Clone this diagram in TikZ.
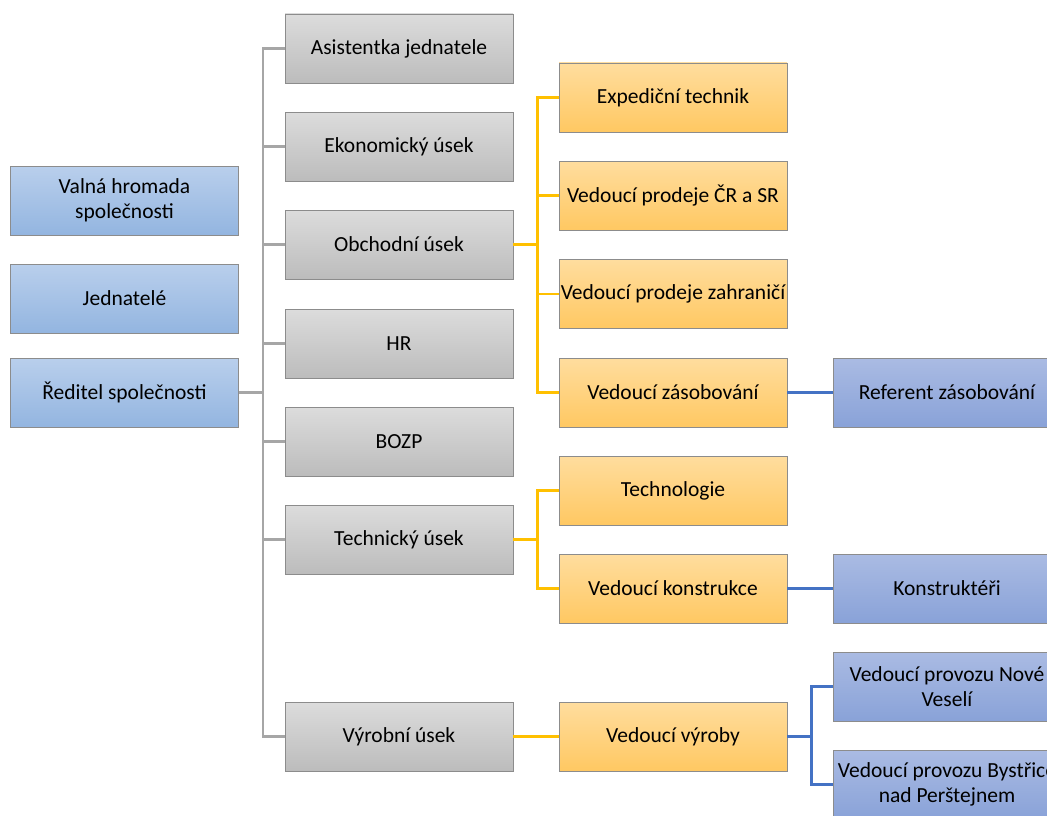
\documentclass[tikz,border=0pt]{standalone}
\usepackage{fontspec}
\setmainfont{Carlito}
\definecolor{lbT}{HTML}{B9CFEC}
\definecolor{lbB}{HTML}{93B5E0}
\definecolor{grT}{HTML}{DCDCDC}
\definecolor{grB}{HTML}{BCBCBC}
\definecolor{orT}{HTML}{FFDD9E}
\definecolor{orB}{HTML}{FFC862}
\definecolor{dbT}{HTML}{AABBE3}
\definecolor{dbB}{HTML}{89A2D8}
\definecolor{gline}{HTML}{A6A6A6}
\definecolor{oline}{HTML}{FFC000}
\definecolor{bline}{HTML}{4472C4}
\tikzset{
  box/.style={draw=black!45, line width=0.7pt, minimum width=228pt, minimum height=69pt,
    align=center, font=\fontsize{21.5}{24.5}\selectfont, inner sep=1pt},
  lbox/.style={box, top color=lbT, bottom color=lbB},
  gbox/.style={box, top color=grT, bottom color=grB},
  obox/.style={box, top color=orT, bottom color=orB},
  dbox/.style={box, top color=dbT, bottom color=dbB},
  gl/.style={draw=gline, line width=2.5pt},
  ol/.style={draw=oline, line width=2.5pt},
  bl/.style={draw=bline, line width=2.5pt},
}
\begin{document}
\begin{tikzpicture}[x=1pt,y=-1pt]
\useasboundingbox (0,0) rectangle (1047,816);
\clip (0,0) rectangle (1047,816);
% left column
\node[lbox] (val) at (124.5,200.5) {Valná hromada\\společnosti};
\node[lbox] (jed) at (124.5,298.5) {Jednatelé};
\node[lbox] (red) at (124.5,392.5) {Ředitel společnosti};
% gray column
\node[gbox] (asi) at (399,48.5) {Asistentka jednatele};
\node[gbox] (eko) at (399,146.5) {Ekonomický úsek};
\node[gbox] (obc) at (399,244.5) {Obchodní úsek};
\node[gbox] (hr) at (399,343.5) {HR};
\node[gbox] (boz) at (399,441.5) {BOZP};
\node[gbox] (tec) at (399,539.5) {Technický úsek};
\node[gbox] (vyu) at (399,736.5) {Výrobní úsek};
% orange column
\node[obox] (exp) at (673,97.5) {Expediční technik};
\node[obox] (pcr) at (673,195.5) {Vedoucí prodeje ČR a SR};
\node[obox] (pza) at (673,294) {Vedoucí prodeje zahraničí};
\node[obox] (zas) at (673,392.5) {Vedoucí zásobování};
\node[obox] (tgl) at (673,490.5) {Technologie};
\node[obox] (kon) at (673,588.5) {Vedoucí konstrukce};
\node[obox] (vyr) at (673,736.5) {Vedoucí výroby};
% right column
\node[dbox] (ref) at (947,392.5) {Referent zásobování};
\node[dbox] (kns) at (947,588.5) {Konstruktéři};
\node[dbox] (nov) at (947,686.5) {Vedoucí provozu Nové\\Veselí};
\node[dbox] (bys) at (947,784.5) {Vedoucí provozu Bystřice\\nad Perštejnem};
% gray connectors
\foreach \t in {asi,eko,obc,hr,boz,tec,vyu}
  \draw[gl] (red.east) -- ++(24,0) |- (\t.west);
% orange connectors
\foreach \t in {exp,pcr,pza,zas}
  \draw[ol] (obc.east) -- ++(24,0) |- (\t.west);
\foreach \t in {tgl,kon}
  \draw[ol] (tec.east) -- ++(24,0) |- (\t.west);
\draw[ol] (vyu.east) -- (vyr.west);
% blue connectors
\draw[bl] (zas.east) -- (ref.west);
\draw[bl] (kon.east) -- (kns.west);
\foreach \t in {nov,bys}
  \draw[bl] (vyr.east) -- ++(24,0) |- (\t.west);
\end{tikzpicture}
\end{document}
